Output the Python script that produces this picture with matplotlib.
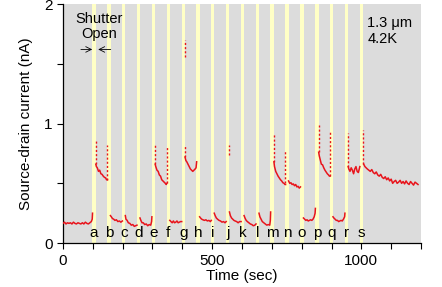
import numpy as np
import matplotlib
matplotlib.use('Agg')
import matplotlib.pyplot as plt
from matplotlib.ticker import MultipleLocator

plt.rcParams['font.family'] = ['Liberation Sans', 'DejaVu Sans']

# shutter-open times (sec) and their labels
band_t = [104, 154, 204, 253, 303, 353, 403, 453, 502, 552,
          602, 652, 701, 751, 801, 851, 900, 950, 1000]
band_lab = list('abcdefghijklmnopqrs')

# trace (time sec, current nA)
seg_t = [
    [0, 5, 10, 15, 20, 25, 30, 35, 40, 45, 50, 55, 60, 65, 70, 75, 80, 85, 90, 95, 98, 99],
    [110, 112, 115, 119, 123, 127, 131, 135, 139, 143, 146, 149],
    [159, 162, 166, 170, 174, 179, 184, 189, 194, 199],
    [209, 211, 215, 219, 224, 229, 234, 239, 244, 248],
    [258, 261, 265, 269, 274, 279, 284, 289, 294, 297, 298],
    [309, 311, 315, 319, 323, 327, 331, 335, 339, 343, 346, 348],
    [358, 362, 366, 370, 374, 378, 382, 386, 390, 394, 398],
    [409, 412, 415, 419, 423, 427, 431, 435, 439, 443, 446, 448],
    [458, 461, 465, 469, 474, 479, 484, 489, 494, 497],
    [507, 510, 514, 518, 523, 528, 533, 538, 543, 547],
    [558, 561, 565, 569, 573, 577, 582, 587, 592, 597],
    [607, 610, 614, 618, 623, 628, 633, 638, 643, 647],
    [657, 660, 664, 668, 673, 678, 683, 688, 693, 695, 696],
    [707, 709, 713, 717, 721, 725, 729, 733, 737, 741, 744, 746],
    [756, 760, 764, 768, 772, 776, 780, 784, 788, 792, 796],
    [806, 810, 814, 818, 822, 826, 830, 834, 838, 842, 845, 846],
    [857, 859, 862, 866, 870, 874, 878, 882, 886, 890, 893, 895],
    [905, 908, 912, 916, 920, 924, 928, 932, 936, 940, 944, 945],
    [956, 958, 962, 966, 970, 974, 978, 982, 986, 990, 993, 995],
    [1008, 1012, 1016, 1020, 1025, 1030, 1035, 1040, 1045, 1050, 1055,
     1060, 1065, 1070, 1075, 1080, 1085, 1090, 1095, 1100, 1105, 1110, 1115, 1120,
     1125, 1130, 1135, 1140, 1145, 1150, 1155, 1160, 1165, 1170, 1175, 1180, 1185, 1190],
]
seg_i = [
    [0.165, 0.175, 0.16, 0.17, 0.165, 0.17, 0.16, 0.175, 0.165, 0.16, 0.17, 0.165, 0.16,
     0.17, 0.16, 0.175, 0.165, 0.16, 0.17, 0.18, 0.2, 0.25],
    [0.66, 0.64, 0.63, 0.60, 0.61, 0.58, 0.575, 0.56, 0.55, 0.545, 0.53, 0.53],
    [0.23, 0.22, 0.205, 0.20, 0.19, 0.195, 0.18, 0.185, 0.175, 0.185],
    [0.23, 0.20, 0.19, 0.17, 0.165, 0.15, 0.155, 0.14, 0.145, 0.15],
    [0.21, 0.19, 0.17, 0.17, 0.155, 0.16, 0.145, 0.155, 0.15, 0.18, 0.22],
    [0.66, 0.64, 0.61, 0.60, 0.57, 0.56, 0.53, 0.52, 0.51, 0.50, 0.49, 0.50],
    [0.19, 0.18, 0.17, 0.185, 0.17, 0.175, 0.185, 0.17, 0.175, 0.18, 0.18],
    [0.72, 0.69, 0.68, 0.66, 0.64, 0.62, 0.61, 0.60, 0.61, 0.62, 0.63, 0.68],
    [0.22, 0.21, 0.20, 0.195, 0.19, 0.195, 0.185, 0.19, 0.18, 0.19],
    [0.25, 0.23, 0.21, 0.20, 0.19, 0.185, 0.175, 0.18, 0.17, 0.18],
    [0.26, 0.23, 0.21, 0.20, 0.19, 0.185, 0.18, 0.17, 0.18, 0.18],
    [0.23, 0.21, 0.19, 0.18, 0.17, 0.16, 0.155, 0.145, 0.15, 0.16],
    [0.25, 0.22, 0.20, 0.18, 0.17, 0.16, 0.15, 0.155, 0.15, 0.19, 0.26],
    [0.68, 0.64, 0.60, 0.58, 0.56, 0.545, 0.53, 0.52, 0.505, 0.50, 0.49, 0.49],
    [0.52, 0.50, 0.505, 0.49, 0.495, 0.48, 0.49, 0.47, 0.475, 0.46, 0.47],
    [0.21, 0.20, 0.19, 0.195, 0.185, 0.19, 0.195, 0.19, 0.20, 0.22, 0.25, 0.29],
    [0.76, 0.73, 0.70, 0.66, 0.655, 0.63, 0.61, 0.595, 0.58, 0.57, 0.56, 0.56],
    [0.22, 0.21, 0.20, 0.19, 0.19, 0.18, 0.185, 0.19, 0.185, 0.20, 0.22, 0.25],
    [0.64, 0.62, 0.60, 0.63, 0.61, 0.58, 0.62, 0.64, 0.60, 0.59, 0.62, 0.64],
    [0.66, 0.64, 0.63, 0.62, 0.61, 0.60, 0.615, 0.59, 0.58, 0.595, 0.57, 0.56,
     0.575, 0.55, 0.54, 0.555, 0.53, 0.545, 0.52, 0.535, 0.50, 0.515, 0.525, 0.50, 0.51, 0.525,
     0.50, 0.515, 0.495, 0.52, 0.50, 0.49, 0.515, 0.50, 0.485, 0.51, 0.50, 0.49],
]

# fast transients at the shutter edges: time, low end, high end (nA)
spike_t = [110, 149, 309, 347, 408, 409, 557, 707, 745, 857, 894, 956, 1005]
spike_lo = [0.66, 0.53, 0.66, 0.50, 1.56, 0.72, 0.74, 0.68, 0.50, 0.76, 0.56, 0.64, 0.66]
spike_hi = [0.86, 0.82, 0.82, 0.80, 1.70, 0.82, 0.82, 0.92, 0.78, 0.99, 0.93, 0.92, 0.95]

t = np.concatenate([np.append(np.array(s, float), np.nan) for s in seg_t])
cur = np.concatenate([np.append(np.array(s, float), np.nan) for s in seg_i])

fig = plt.figure(figsize=(4.42, 2.87), dpi=100)
ax = fig.add_axes([0.1425, 0.153, 0.810, 0.833])
ax.set_facecolor('#dcdcdc')

for bt in band_t:
    ax.axvspan(bt - 5.5, bt + 5.5, color='#ffffc6', lw=0, zorder=1)
ax.plot(t, cur, color='#e8141c', lw=1.1, zorder=3)
ax.vlines(spike_t, spike_lo, spike_hi, color='#e8141c', lw=1.0,
          linestyles=(0, (1.5, 1.5)), zorder=3)

for bt, lab in zip(band_t, band_lab):
    ax.text(bt, 0.05, lab, ha='center', va='baseline', fontsize=11, zorder=4)

ax.text(120, 1.93, 'Shutter\nOpen', ha='center', va='top', fontsize=10.5, linespacing=1.1)
ax.annotate('', xy=(98, 1.62), xytext=(60, 1.62),
            arrowprops=dict(arrowstyle='->', lw=0.6, color='black', shrinkA=0, shrinkB=0))
ax.annotate('', xy=(118, 1.62), xytext=(160, 1.62),
            arrowprops=dict(arrowstyle='->', lw=0.6, color='black', shrinkA=0, shrinkB=0))
ax.text(1020, 1.90, '1.3 \u03bcm\n4.2K', ha='left', va='top', fontsize=10.5, linespacing=1.15)

ax.set_xlim(0, 1200)
ax.set_ylim(0, 2)
ax.xaxis.set_major_locator(MultipleLocator(500))
ax.xaxis.set_minor_locator(MultipleLocator(100))
ax.yaxis.set_major_locator(MultipleLocator(1))
ax.yaxis.set_minor_locator(MultipleLocator(0.5))
ax.tick_params(which='both', direction='out', length=4, width=0.8, labelsize=11)
for side in ['top', 'right']:
    ax.spines[side].set_visible(False)
for side in ['left', 'bottom']:
    ax.spines[side].set_linewidth(0.9)

ax.set_xlabel('Time (sec)', fontsize=11, labelpad=1)
ax.set_ylabel('Source-drain current (nA)', fontsize=11, labelpad=8)

plt.savefig('out.png', dpi=100)
